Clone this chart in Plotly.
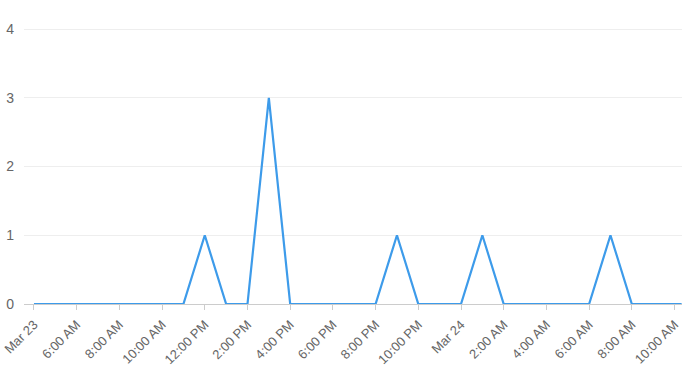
import plotly.graph_objects as go
import pandas as pd

times = list(pd.date_range("2024-03-23 04:00", "2024-03-24 10:00", freq="h")) + [pd.Timestamp("2024-03-24 10:20")]
values = [0, 0, 0, 0, 0, 0, 0, 0, 1, 0, 0, 3, 0, 0, 0, 0, 0, 1, 0, 0, 0, 1, 0, 0, 0, 0, 0, 1, 0, 0, 0, 0]

tick_vals = list(pd.date_range("2024-03-23 04:00", "2024-03-24 10:00", freq="2h"))
tick_text = ["Mar 23", "6:00 AM", "8:00 AM", "10:00 AM", "12:00 PM", "2:00 PM", "4:00 PM",
             "6:00 PM", "8:00 PM", "10:00 PM", "Mar 24", "2:00 AM", "4:00 AM", "6:00 AM",
             "8:00 AM", "10:00 AM"]
y_ticks = [0, 1, 2, 3, 4]

fig = go.Figure()
fig.add_trace(go.Scatter(x=times, y=values, mode="lines",
                         line=dict(color="#3d9bea", width=2.2), hoverinfo="x+y"))

fig.update_layout(
    width=690, height=375,
    margin=dict(l=24, r=8, t=28, b=71),
    plot_bgcolor="white", paper_bgcolor="white",
    showlegend=False,
    font=dict(family="Liberation Sans, Arial, sans-serif", size=13, color="#666666"),
    xaxis=dict(
        range=[pd.Timestamp("2024-03-23 03:32"), pd.Timestamp("2024-03-24 10:21")],
        tickvals=tick_vals, ticktext=tick_text, tickangle=-45,
        showgrid=False, zeroline=False, automargin=False,
        showline=True, linecolor="#cccccc", linewidth=1,
        ticks="outside", ticklen=5, tickcolor="#cccccc",
        ticklabelstandoff=2,
        tickfont=dict(size=13, color="#666666"),
    ),
    yaxis=dict(
        range=[0, 4.015], tickvals=y_ticks, automargin=False,
        showgrid=True, gridcolor="#eeeeee", gridwidth=1,
        zeroline=False, showline=False,
        ticks="", ticklabelstandoff=9,
        tickfont=dict(size=14, color="#666666"),
    ),
)

fig.write_html("out.html")
